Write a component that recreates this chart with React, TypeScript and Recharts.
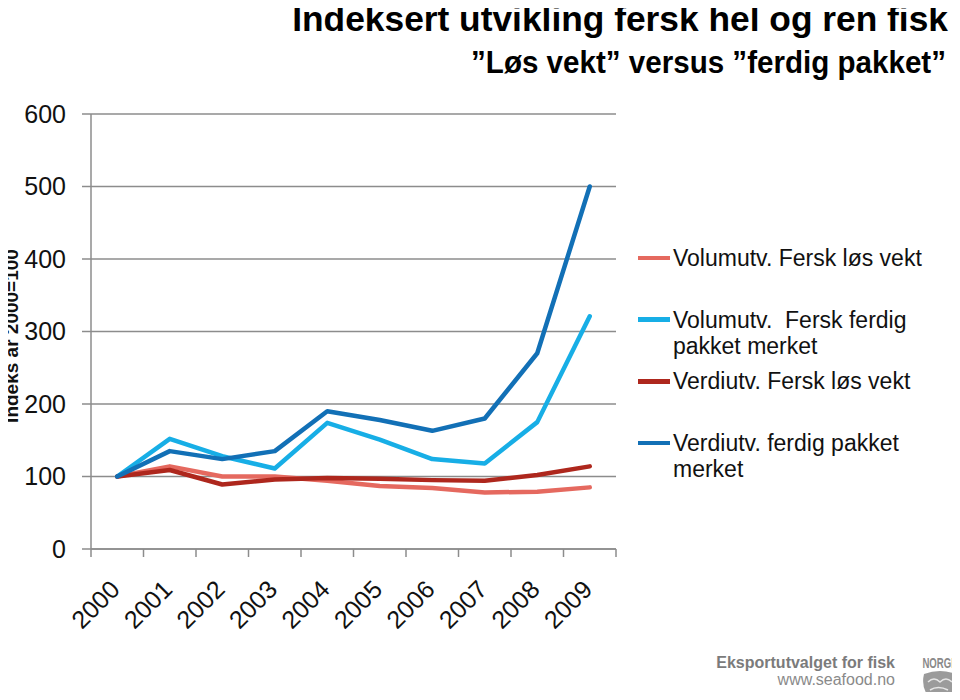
import React from 'react';
import { LineChart, Line, XAxis, YAxis, CartesianGrid } from 'recharts';

const years = ['2000', '2001', '2002', '2003', '2004', '2005', '2006', '2007', '2008', '2009'];
const volumLos = [100, 114, 100, 100, 94, 87, 84, 78, 79, 85];
const volumPakket = [100, 152, 128, 111, 174, 151, 124, 118, 175, 321];
const verdiLos = [100, 109, 89, 96, 98, 97, 95, 94, 102, 114];
const verdiPakket = [100, 135, 124, 135, 190, 178, 163, 180, 270, 500];

const seriesKeys = ['volumLos', 'volumPakket', 'verdiLos', 'verdiPakket'];
const seriesNames = [
  'Volumutv. Fersk løs vekt',
  'Volumutv.  Fersk ferdig pakket merket',
  'Verdiutv. Fersk løs vekt',
  'Verdiutv. ferdig pakket merket',
];
const seriesColors = ['#E5695F', '#17AEE6', '#AE271D', '#1270B6'];
const yTicks = [0, 100, 200, 300, 400, 500, 600];

const title = 'Indeksert utvikling fersk hel og ren fisk';
const subtitle = '\u201DLøs vekt\u201D versus \u201Dferdig pakket\u201D';
const yLabel = 'Indeks år 2000=100';
const brandName = 'Eksportutvalget for fisk';
const brandUrl = 'www.seafood.no';
const brandMark = 'NORGE';

const data = years.map((year, i) => ({
  year,
  idx: i,
  volumLos: volumLos[i],
  volumPakket: volumPakket[i],
  verdiLos: verdiLos[i],
  verdiPakket: verdiPakket[i],
}));
const boundaryTicks = Array.from({ length: years.length + 1 }, (_, i) => i);

const FONT = '"Liberation Sans", Arial, sans-serif';
const GRID = '#8c8c8c';

const YearTick = (props: any) => {
  const { x, y, payload } = props;
  const ax = x + 4;
  const ay = y + 41;
  return (
    <text
      x={ax}
      y={ay}
      textAnchor="end"
      transform={`rotate(-45 ${ax} ${ay})`}
      fontSize={25}
      fontFamily={FONT}
      fill="#111"
    >
      {payload.value}
    </text>
  );
};

const EmptyTick = () => <g />;

export default function App() {
  return (
    <div style={{ position: 'relative', width: 960, height: 700, margin: -8, background: '#fff', fontFamily: FONT, overflow: 'hidden' }}>
      <LineChart
        width={960}
        height={700}
        data={data}
        margin={{ top: 114, right: 344, bottom: 149, left: 0 }}
      >
        <CartesianGrid xAxisId="cat" vertical={false} stroke={GRID} strokeWidth={1.5} />
        <XAxis
          xAxisId="bounds"
          type="number"
          dataKey="idx"
          domain={[0, years.length]}
          ticks={boundaryTicks}
          allowDataOverflow
          height={1}
          tickSize={8}
          tick={EmptyTick}
          axisLine={{ stroke: GRID, strokeWidth: 1.5 }}
          tickLine={{ stroke: GRID, strokeWidth: 1.5 }}
        />
        <XAxis
          xAxisId="cat"
          dataKey="year"
          scale="band"
          height={1}
          axisLine={false}
          tickLine={false}
          tickSize={0}
          tickMargin={0}
          interval={0}
          tick={YearTick}
        />
        <YAxis
          domain={[0, 600]}
          ticks={yTicks}
          interval={0}
          width={91}
          tickSize={9}
          tickMargin={16}
          axisLine={{ stroke: GRID, strokeWidth: 1.5 }}
          tickLine={{ stroke: GRID, strokeWidth: 1.5 }}
          tick={{ fontSize: 25, fill: '#111', fontFamily: FONT }}
        />
        {seriesKeys.map((k, i) => (
          <Line
            key={k}
            xAxisId="cat"
            type="linear"
            dataKey={k}
            name={seriesNames[i]}
            stroke={seriesColors[i]}
            strokeWidth={4.5}
            strokeLinejoin="round"
            strokeLinecap="round"
            dot={false}
            activeDot={false}
            isAnimationActive={false}
          />
        ))}
      </LineChart>

      <svg style={{ position: 'absolute', left: 0, top: 0, pointerEvents: 'none' }} width={960} height={700}>
        <text
          x={948}
          y={31}
          textAnchor="end"
          fontSize={35}
          fontWeight="bold"
          fontFamily={FONT}
          fill="#000"
          transform="translate(948 0) scale(1.01 1) translate(-948 0)"
        >
          {title}
        </text>
        <text
          x={946}
          y={73.5}
          textAnchor="end"
          fontSize={30.5}
          fontWeight="bold"
          fontFamily={FONT}
          fill="#000"
          transform="translate(946 0) scale(0.97 1) translate(-946 0)"
        >
          {subtitle}
        </text>
        <text
          transform="translate(17.5 336) rotate(-90)"
          textAnchor="middle"
          fontSize={19}
          fontWeight="bold"
          fontFamily={FONT}
          fill="#111"
        >
          {yLabel}
        </text>
        <text x={895} y={668} textAnchor="end" fontSize={16} fontWeight="bold" fontFamily={FONT} fill="#7b7b7b">
          {brandName}
        </text>
        <text x={895} y={685} textAnchor="end" fontSize={16} fontFamily={FONT} fill="#8a8a8a">
          {brandUrl}
        </text>
        <text
          x={940}
          y={668}
          textAnchor="middle"
          fontSize={12}
          fontWeight="bold"
          fontFamily={FONT}
          fill="#8a8a8a"
          transform="translate(940 668) scale(0.8 1.15) translate(-940 -668)"
        >
          {brandMark}
        </text>
        <path d="M924 674 Q940 668 956 674 Q959 686 952 696 Q940 702 928 696 Q921 686 924 674 Z" fill="#9b9b9b" />
        <path d="M928 682 Q934 676 940 682 Q946 676 952 682 M930 690 Q938 685 948 690" stroke="#e6e6e6" strokeWidth={1.5} fill="none" />
      </svg>

      <div style={{ position: 'absolute', left: 638, top: 245 }}>
        {seriesNames.map((n, i) => (
          <div key={n} style={{ display: 'flex', alignItems: 'flex-start', height: 61.7 }}>
            <div style={{ width: 32, height: 4.5, background: seriesColors[i], marginTop: 10.75, flex: 'none' }} />
            <div style={{ marginLeft: 3, width: 280, fontSize: 23, lineHeight: '26px', whiteSpace: 'pre-wrap', color: '#111' }}>{n}</div>
          </div>
        ))}
      </div>
    </div>
  );
}
